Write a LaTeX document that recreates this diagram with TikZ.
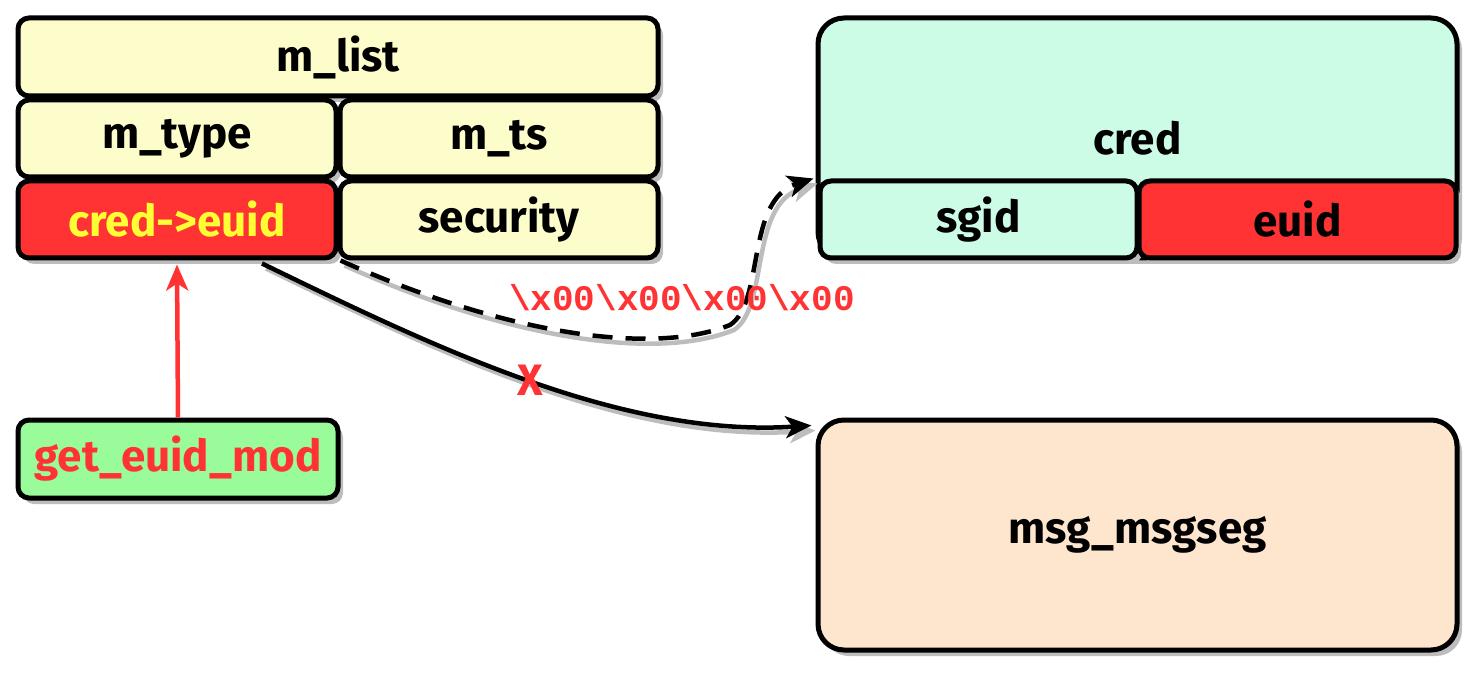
\documentclass[tikz,border=0pt]{standalone}
\usepackage{fontspec}
\setmainfont{Fira Sans}
\newfontfamily\monof{Liberation Mono}
\usetikzlibrary{arrows.meta,shadows,calc}
\definecolor{cyel}{HTML}{FDFDCB}
\definecolor{cred}{HTML}{FF3333}
\definecolor{cmint}{HTML}{CCFCE5}
\definecolor{cpeach}{HTML}{FEE5CD}
\definecolor{cgreen}{HTML}{99FB99}
\definecolor{ctxtyel}{HTML}{FFFF33}
\definecolor{cshadow}{HTML}{BDBDBD}
\tikzset{
  cell/.style={draw=black, line width=5pt, rounded corners=11pt, inner sep=0pt,
    font=\fontsize{44}{46}\selectfont\bfseries,
    drop shadow={shadow xshift=5pt, shadow yshift=-6pt, fill=cshadow, opacity=1}},
  bigbox/.style={cell, rounded corners=26pt},
  arr/.style={-{Stealth[length=26pt,width=22pt,inset=7pt]}, line width=4.5pt},
  lshadow/.style={preaction={draw=cshadow, line width=4.5pt, transform canvas={shift={(4pt,-5pt)}}}},
}
\begin{document}
\begin{tikzpicture}[x=1pt,y=-1pt]
\useasboundingbox (0,0) rectangle (1482,684);
% left structure
\node[cell, fill=cyel, minimum width=640pt, minimum height=78pt] (mlist) at (338,57) {m\_list};
\node[cell, fill=cyel, minimum width=318pt, minimum height=77pt] (mtype) at (177,138.5) {m\_type};
\node[cell, fill=cyel, minimum width=318pt, minimum height=77pt] (mts) at (499,138.5) {m\_ts};
\node[cell, fill=cred, text=ctxtyel, minimum width=318pt, minimum height=77pt] (credeuid) at (177,219.5) {cred->euid};
\node[cell, fill=cyel, minimum width=318pt, minimum height=77pt] (security) at (499,219.5) {security};
% cred
\node[bigbox, fill=cmint, minimum width=639pt, minimum height=240pt] (cred) at (1137.5,138) {cred};
\node[cell, fill=cmint, drop shadow={opacity=0}, minimum width=317pt, minimum height=77pt] (sgid) at (978.5,219.5) {sgid};
\node[cell, fill=cred, drop shadow={opacity=0}, minimum width=317pt, minimum height=77pt] (euid) at (1297.5,219.5) {euid};
% msg
\node[bigbox, fill=cpeach, minimum width=639pt, minimum height=230pt] (msg) at (1137.5,535) {msg\_msgseg};
% get_euid_mod
\node[cell, fill=cgreen, text=cred, minimum width=320pt, minimum height=78pt] (get) at (178,459) {get\_euid\_mod};
% connectors
\coordinate (dstart) at ([xshift=3pt]security.south west);
\coordinate (dend) at ([xshift=-4pt]sgid.north west);
\coordinate (sstart) at ([xshift=85pt,yshift=-3pt]credeuid.south);
\coordinate (send) at ([xshift=-4pt,yshift=-8pt]msg.north west);
\draw[arr, draw=cred, line width=4.5pt] (get.north) -- ([yshift=-4pt]credeuid.south);
\draw[arr, lshadow] (sstart) .. controls (430,345) and (620,438) .. (send);
\draw[arr, lshadow, dash pattern=on 20pt off 13pt] (dstart) .. controls (500,332) and (650,357) .. (730,325) .. controls (765,302) and (745,200) .. (dend);
\node[text=cred, font=\monof\fontsize{36}{38}\selectfont\bfseries, inner sep=0pt] (lbl) at (682,298) {\textbackslash x00\textbackslash x00\textbackslash x00\textbackslash x00};
\node[text=cred, font=\fontsize{44}{44}\selectfont\bfseries, inner sep=0pt] (xmark) at (530,380) {X};
\end{tikzpicture}
\end{document}
